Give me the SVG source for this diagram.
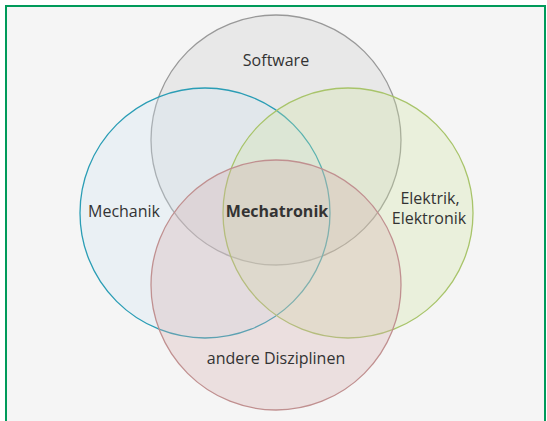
<svg xmlns="http://www.w3.org/2000/svg" width="547" height="421" viewBox="0 0 547 421">
<style>
.c{stroke-width:1.3;fill-opacity:0.3}
.t{font-family:"Open Sans","Liberation Sans",sans-serif;font-size:16px;fill:#333}
.b{font-weight:bold}
</style>
<rect x="0" y="0" width="547" height="421" fill="#fff"/>
<rect x="6" y="6" width="539" height="430" fill="#f5f5f5" stroke="#009a5a" stroke-width="2"/>
<g id="software"><circle class="c" cx="276" cy="140" r="125" fill="#cacaca" stroke="#999"/></g>
<g id="mechanik"><circle class="c" cx="205" cy="213" r="125" fill="#d0e4f2" stroke="#2a9db5"/></g>
<g id="elektrik"><circle class="c" cx="348" cy="213" r="125" fill="#d2e4a1" stroke="#a8c46a"/></g>
<g id="andere"><circle class="c" cx="276" cy="285" r="125" fill="#d4acac" stroke="#c09090"/></g>
<g id="labels">
<text class="t" x="276" y="66" text-anchor="middle">Software</text>
<text class="t" x="124" y="217" text-anchor="middle">Mechanik</text>
<text class="t b" x="277" y="217" text-anchor="middle">Mechatronik</text>
<text class="t" x="430" y="204" text-anchor="middle">Elektrik,</text>
<text class="t" x="429" y="224" text-anchor="middle">Elektronik</text>
<text class="t" x="276" y="364" text-anchor="middle">andere Disziplinen</text>
</g>
</svg>
